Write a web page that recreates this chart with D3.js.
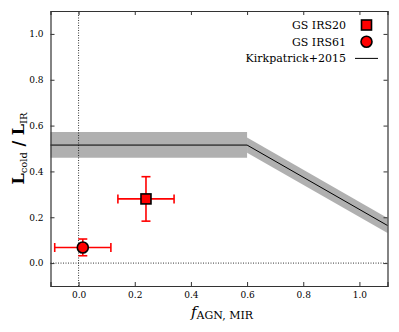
<!DOCTYPE html>
<html>
<head>
<meta charset="utf-8">
<script src="https://d3js.org/d3.v7.min.js"></script>
<style>
  body { margin: 0; background: #fff; }
  svg text { font-family: "DejaVu Serif", "Liberation Serif", serif; fill: #000; }
</style>
</head>
<body>
<div id="chart"></div>
<script>
// data
const xTicks = [0.0, 0.2, 0.4, 0.6, 0.8, 1.0];
const yTicks = [0.0, 0.2, 0.4, 0.6, 0.8, 1.0];

// Kirkpatrick+2015 relation: flat part and declining part
const kirkLine = [[-0.1, 0.515], [0.6, 0.515], [1.1, 0.164]];
const kirkFlatBand = [[-0.1, 0.46, 0.572], [0.6, 0.46, 0.572]];
const kirkSlopeBand = [[0.6, 0.482, 0.548], [1.1, 0.131, 0.197]];

// sources: x, y, xerr, yerr lower, yerr upper
const sources = [
  { name: "GS IRS20", shape: "square", x: 0.24, y: 0.28, xerr: 0.10, ylo: 0.097, yhi: 0.097 },
  { name: "GS IRS61", shape: "circle", x: 0.015, y: 0.068, xerr: 0.10, ylo: 0.036, yhi: 0.037 }
];

const W = 399, H = 332;
const m = { left: 50.5, right: 11.5, top: 11, bottom: 46 };

const svg = d3.select("#chart").append("svg")
  .attr("width", W).attr("height", H);

const x = d3.scaleLinear().domain([-0.1, 1.1]).range([m.left, W - m.right]);
const y = d3.scaleLinear().domain([-0.1, 1.1]).range([H - m.bottom, m.top]);

const plot = svg.append("g");

// bands
const area = d3.area().x(d => x(d[0])).y0(d => y(d[1])).y1(d => y(d[2]));
plot.append("path").datum(kirkFlatBand).attr("d", area).attr("fill", "#b0b0b0");
plot.append("path").datum(kirkSlopeBand).attr("d", area).attr("fill", "#b0b0b0");

// reference dotted lines
plot.append("line")
  .attr("x1", x(0)).attr("x2", x(0)).attr("y1", y(-0.1)).attr("y2", y(1.1))
  .attr("stroke", "#000").attr("stroke-width", 0.8).attr("stroke-dasharray", "1,1.5");
plot.append("line")
  .attr("x1", x(-0.1)).attr("x2", x(1.1)).attr("y1", y(0)).attr("y2", y(0))
  .attr("stroke", "#000").attr("stroke-width", 0.8).attr("stroke-dasharray", "1,1.5");

// model line
plot.append("path").datum(kirkLine)
  .attr("d", d3.line().x(d => x(d[0])).y(d => y(d[1])))
  .attr("fill", "none").attr("stroke", "#000").attr("stroke-width", 1);

// error bars
const red = "#ff0000";
const cap = 4.5;
sources.forEach(s => {
  const g = plot.append("g").attr("stroke", red).attr("stroke-width", 1.6);
  g.append("line").attr("x1", x(s.x - s.xerr)).attr("x2", x(s.x + s.xerr))
    .attr("y1", y(s.y)).attr("y2", y(s.y));
  g.append("line").attr("x1", x(s.x)).attr("x2", x(s.x))
    .attr("y1", y(s.y - s.ylo)).attr("y2", y(s.y + s.yhi));
  [s.x - s.xerr, s.x + s.xerr].forEach(v => {
    g.append("line").attr("x1", x(v)).attr("x2", x(v))
      .attr("y1", y(s.y) - cap).attr("y2", y(s.y) + cap);
  });
  [s.y - s.ylo, s.y + s.yhi].forEach(v => {
    g.append("line").attr("x1", x(s.x) - cap).attr("x2", x(s.x) + cap)
      .attr("y1", y(v)).attr("y2", y(v));
  });
});

function marker(g, shape, cx, cy) {
  if (shape === "square") {
    g.append("rect").attr("x", cx - 5).attr("y", cy - 5).attr("width", 10).attr("height", 10)
      .attr("fill", red).attr("stroke", "#000").attr("stroke-width", 1.6);
  } else {
    g.append("circle").attr("cx", cx).attr("cy", cy).attr("r", 5.5)
      .attr("fill", red).attr("stroke", "#000").attr("stroke-width", 1.6);
  }
}
sources.forEach(s => marker(plot, s.shape, x(s.x), y(s.y)));

// frame and inward ticks
const tickLen = 4;
const axisColor = "#333";
const bottomAx = d3.axisBottom(x).tickValues(xTicks).tickSize(-tickLen).tickPadding(6).tickFormat(d3.format(".1f"));
const topAx = d3.axisTop(x).tickValues(xTicks).tickSize(-tickLen).tickFormat("");
const leftAx = d3.axisLeft(y).tickValues(yTicks).tickSize(-tickLen).tickPadding(7).tickFormat(d3.format(".1f"));
const rightAx = d3.axisRight(y).tickValues(yTicks).tickSize(-tickLen).tickFormat("");

function styleAxis(g) {
  g.selectAll("path.domain").attr("stroke", axisColor).attr("stroke-width", 1.2);
  g.selectAll(".tick line").attr("stroke", axisColor).attr("stroke-width", 1);
  g.selectAll(".tick text").attr("font-size", 9).attr("font-family", "DejaVu Serif, serif").attr("fill", "#222");
}
svg.append("g").attr("transform", `translate(0,${H - m.bottom})`).call(bottomAx).call(styleAxis);
svg.append("g").attr("transform", `translate(0,${m.top})`).call(topAx).call(styleAxis);
svg.append("g").attr("transform", `translate(${m.left},0)`).call(leftAx).call(styleAxis);
svg.append("g").attr("transform", `translate(${W - m.right},0)`).call(rightAx).call(styleAxis);

// axis labels
const xl = svg.append("text").attr("x", 222).attr("y", 316.5).attr("text-anchor", "middle");
xl.append("tspan").attr("font-style", "italic").attr("font-size", 15).text("f");
xl.append("tspan").attr("font-size", 11).attr("dy", 2).text("AGN, MIR");

const yl = svg.append("text")
  .attr("transform", `translate(24,${y(0.5)}) rotate(-90)`)
  .attr("text-anchor", "middle").attr("font-weight", "bold");
yl.append("tspan").attr("font-size", 16).text("L");
yl.append("tspan").attr("font-size", 10).attr("font-weight", "normal").attr("dy", 3).text("cold");
yl.append("tspan").attr("font-size", 16).attr("dy", -3).text(" / L");
yl.append("tspan").attr("font-size", 10).attr("font-weight", "normal").attr("dy", 3).text("IR");

// legend
const legend = [
  { label: "GS IRS20", kind: "square" },
  { label: "GS IRS61", kind: "circle" },
  { label: "Kirkpatrick+2015", kind: "line" }
];
const lg = svg.append("g");
legend.forEach((d, i) => {
  const ly = 25 + i * 16.7;
  lg.append("text").attr("x", 346).attr("y", ly + 4).attr("text-anchor", "end")
    .attr("font-size", 11).text(d.label);
  if (d.kind === "line") {
    lg.append("line").attr("x1", 355).attr("x2", 378).attr("y1", ly).attr("y2", ly)
      .attr("stroke", "#000").attr("stroke-width", 1);
  } else {
    marker(lg, d.kind, 366.5, ly);
  }
});
</script>
</body>
</html>
